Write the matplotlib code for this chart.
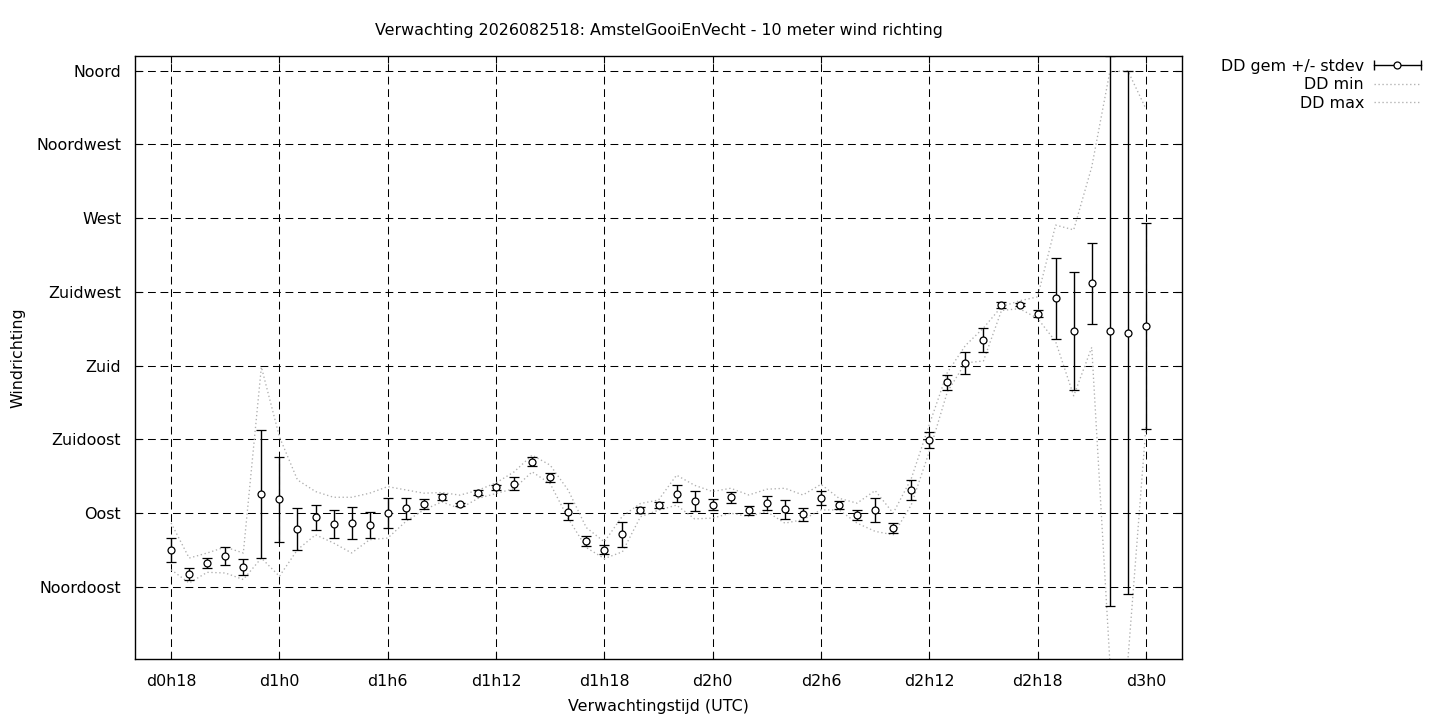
import matplotlib
matplotlib.use('Agg')
import matplotlib.pyplot as plt
from matplotlib.lines import Line2D
from matplotlib.legend_handler import HandlerBase

# forecast hours since run 2026082518 (d0h18 .. d3h0)
hours = list(range(18, 73))

dd_mean = [67.5, 53.1, 59.6, 63.9, 57.2, 101.6, 98.5, 80.3, 87.6, 83.3,
           83.9, 82.7, 90.0, 93.0, 95.4, 99.8, 95.5, 102.6, 105.7, 108.1,
           121.5, 111.8, 91.0, 73.1, 67.8, 77.0, 92.2, 94.9, 102.0, 97.4,
           95.1, 99.7, 91.8, 96.3, 92.4, 89.4, 99.1, 94.9, 88.8, 92.0,
           80.9, 104.2, 134.7, 169.8, 181.7, 195.7, 217.2, 217.2, 211.8, 221.2,
           201.1, 230.2, 201.1, 200.2, 204.2]
dd_std = [7.6, 3.7, 2.8, 5.4, 5.0, 39.0, 26.0, 12.7, 7.6, 8.4,
          9.7, 7.8, 9.0, 6.4, 3.0, 2.0, 1.0, 1.5, 1.5, 3.7,
          2.5, 2.7, 4.9, 3.0, 2.8, 7.9, 1.8, 1.8, 5.4, 6.2,
          3.4, 3.2, 2.8, 4.2, 5.9, 4.0, 4.4, 2.6, 3.0, 7.4,
          3.2, 5.9, 4.8, 4.7, 6.9, 7.3, 1.9, 1.0, 2.1, 24.7,
          36.2, 24.8, 167.9, 159.5, 63.0]
dd_min = [55.5, 47.4, 53.9, 53.5, 49.5, 62.6, 51.5, 67.7, 76.8, 71.8,
          65.7, 73.8, 74.8, 84.9, 92.0, 96.9, 92.8, 99.0, 102.0, 105.0,
          115.2, 108.0, 86.7, 69.0, 62.3, 66.4, 87.8, 91.8, 94.9, 86.5,
          87.0, 90.0, 88.0, 91.0, 83.9, 86.0, 92.0, 92.0, 83.9, 78.9,
          76.8, 95.0, 127.5, 164.0, 181.7, 182.9, 213.7, 214.8, 208.9, 194.7,
          161.6, 191.2, 0.0, 0.0, 142.6]
dd_max = [84.0, 62.6, 65.7, 69.3, 65.7, 179.2, 136.6, 110.3, 103.2, 99.7,
          99.7, 102.2, 106.2, 104.2, 102.2, 102.6, 101.0, 104.0, 108.5, 115.2,
          125.4, 119.3, 104.0, 81.2, 72.5, 88.2, 95.9, 98.0, 113.2, 107.0,
          103.2, 105.2, 101.1, 104.6, 105.2, 101.1, 107.6, 99.1, 96.1, 103.8,
          90.0, 111.0, 144.0, 175.8, 192.3, 203.0, 216.0, 219.6, 222.0, 265.8,
          262.9, 301.3, 359.3, 360.0, 336.8]

xtick_pos = [18, 24, 30, 36, 42, 48, 54, 60, 66, 72]
xtick_labels = ['d0h18', 'd1h0', 'd1h6', 'd1h12', 'd1h18',
                'd2h0', 'd2h6', 'd2h12', 'd2h18', 'd3h0']
ytick_pos = [45, 90, 135, 180, 225, 270, 315, 360]
ytick_labels = ['Noordoost', 'Oost', 'Zuidoost', 'Zuid',
                'Zuidwest', 'West', 'Noordwest', 'Noord']

FS = 11.4
plt.rcParams['font.family'] = ['DejaVu Sans']
plt.rcParams['font.size'] = FS

DOT_GREY = '#aeaeae'
DOT_LS = (0, (1, 2.0))


class ErrbarHandler(HandlerBase):
    # gnuplot style key sample: |---o---|
    def create_artists(self, legend, orig, xdescent, ydescent, width, height,
                       fontsize, trans):
        y = (height - ydescent) / 2.0
        x0, x1 = -xdescent, -xdescent + width
        line = Line2D([x0, x1], [y, y], color='black', lw=1.0)
        caps = Line2D([x0, x1], [y, y], ls='none', marker='|', ms=7,
                      mew=1.0, color='black')
        dot = Line2D([(x0 + x1) / 2.0], [y], ls='none', marker='o', ms=5,
                     mfc='white', mec='black', mew=0.9)
        for a in (line, caps, dot):
            a.set_transform(trans)
        return [line, caps, dot]


fig = plt.figure(figsize=(14.4, 7.2), dpi=100)
ax = fig.add_axes([135 / 1440, 1 - 659 / 720, (1182 - 135) / 1440, (659 - 56) / 720])

ax.plot(hours, dd_min, color=DOT_GREY, lw=0.95, ls=DOT_LS, zorder=2)
ax.plot(hours, dd_max, color=DOT_GREY, lw=0.95, ls=DOT_LS, zorder=2)
ax.errorbar(hours, dd_mean, yerr=dd_std, fmt='o', color='black', ecolor='black',
            elinewidth=1.0, capsize=3.3, capthick=1.0, ms=5, mfc='white',
            mec='black', mew=0.9, zorder=3)

ax.set_xlim(16, 74)
ax.set_ylim(1, 369)
ax.set_xticks(xtick_pos)
ax.set_xticklabels(xtick_labels)
ax.set_yticks(ytick_pos)
ax.set_yticklabels(ytick_labels)
ax.tick_params(direction='in', length=5, width=0.8, top=True, right=True,
               pad=10, labelsize=FS)
ax.tick_params(axis='x', pad=11)
ax.grid(True, color='black', lw=0.75, ls=(0, (7.5, 4.5)))
ax.set_axisbelow(True)
for sp in ax.spines.values():
    sp.set_linewidth(1.0)

ax.set_title('Verwachting 2026082518: AmstelGooiEnVecht - 10 meter wind richting',
             fontsize=FS, pad=15)
ax.set_xlabel('Verwachtingstijd (UTC)', fontsize=FS, labelpad=7)
ax.set_ylabel('Windrichting', fontsize=FS, labelpad=8)

handles = [Line2D([], []),
           Line2D([], [], color=DOT_GREY, lw=0.95, ls=DOT_LS),
           Line2D([], [], color=DOT_GREY, lw=0.95, ls=DOT_LS)]
labels = ['DD gem +/- stdev', 'DD min', 'DD max']
fig.legend(handles, labels, loc='upper right', bbox_to_anchor=(1421 / 1440, 1 - 59 / 720),
           frameon=False, markerfirst=False, handlelength=3.0, handletextpad=0.6,
           labelspacing=0.22, borderpad=0, borderaxespad=0, fontsize=FS,
           handler_map={handles[0]: ErrbarHandler()})

fig.savefig('out.png', dpi=100)
